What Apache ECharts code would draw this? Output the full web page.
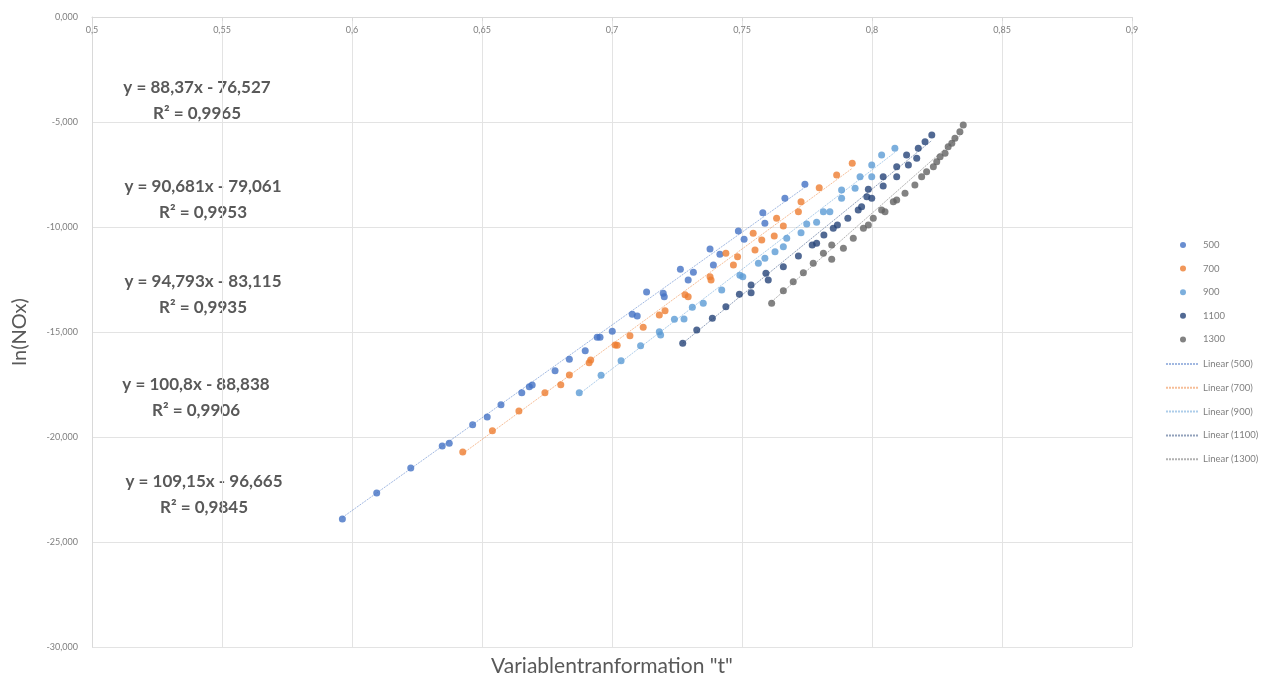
<!DOCTYPE html>
<html>
<head>
<meta charset="utf-8">
<script src="https://cdn.jsdelivr.net/npm/echarts@6/dist/echarts.min.js"></script>
<style>
  html, body { margin: 0; padding: 0; background: #ffffff; }
  #chart { width: 1276px; height: 679px; }
</style>
</head>
<body>
<div id="chart"></div>
<script>
// Temperature groups and their measured points [t, ln(NOx)]
const groups = ['500', '700', '900', '1100', '1300'];

const s500 = [
  [0.5963, -23.905], [0.6095, -22.667], [0.6226, -21.476], [0.6347, -20.429], [0.6374, -20.300],
  [0.6464, -19.414], [0.6520, -19.048], [0.6573, -18.462], [0.6653, -17.890], [0.6682, -17.605],
  [0.6693, -17.524], [0.6781, -16.843], [0.6836, -16.300], [0.6897, -15.890], [0.6943, -15.252],
  [0.6954, -15.252], [0.7001, -14.967], [0.7078, -14.157], [0.7097, -14.238], [0.7133, -13.095],
  [0.7197, -13.157], [0.7201, -13.319], [0.7263, -12.014], [0.7293, -12.524], [0.7313, -12.157],
  [0.7377, -11.048], [0.7390, -11.810], [0.7415, -11.300], [0.7486, -10.190], [0.7508, -10.586],
  [0.7580, -9.319], [0.7588, -9.824], [0.7665, -8.633], [0.7742, -7.967]
];
const s700 = [
  [0.6426, -20.714], [0.6540, -19.700], [0.6642, -18.762], [0.6742, -17.890], [0.6803, -17.510],
  [0.6836, -17.048], [0.6912, -16.462], [0.6918, -16.333], [0.7012, -15.619], [0.7020, -15.633],
  [0.7069, -15.176], [0.7120, -14.776], [0.7182, -14.190], [0.7204, -13.986], [0.7281, -13.224],
  [0.7293, -13.319], [0.7377, -12.367], [0.7381, -12.524], [0.7438, -11.252], [0.7467, -11.810],
  [0.7483, -11.414], [0.7543, -10.300], [0.7550, -11.095], [0.7576, -10.619], [0.7624, -10.429],
  [0.7633, -9.586], [0.7659, -9.952], [0.7717, -9.271], [0.7727, -8.795], [0.7797, -8.129],
  [0.7864, -7.524], [0.7924, -6.967]
];
const s900 = [
  [0.6874, -17.890], [0.6958, -17.062], [0.7035, -16.367], [0.7110, -15.652], [0.7182, -14.986],
  [0.7187, -15.143], [0.7240, -14.395], [0.7277, -14.381], [0.7309, -13.824], [0.7351, -13.633],
  [0.7422, -13.000], [0.7492, -12.300], [0.7503, -12.367], [0.7563, -11.729], [0.7588, -11.490],
  [0.7627, -11.176], [0.7659, -10.938], [0.7672, -10.538], [0.7727, -10.271], [0.7749, -9.857],
  [0.7787, -9.776], [0.7813, -9.271], [0.7838, -9.271], [0.7883, -8.238], [0.7883, -8.633],
  [0.7935, -8.157], [0.7954, -7.605], [0.7999, -7.048], [0.7999, -7.605], [0.8037, -6.571],
  [0.8088, -6.252]
];
const s1100 = [
  [0.7272, -15.538], [0.7326, -14.905], [0.7386, -14.348], [0.7438, -13.795], [0.7490, -13.205],
  [0.7535, -13.129], [0.7535, -12.762], [0.7592, -12.205], [0.7601, -12.524], [0.7659, -11.890],
  [0.7717, -11.381], [0.7770, -10.857], [0.7787, -10.776], [0.7815, -10.381], [0.7851, -10.062],
  [0.7867, -9.905], [0.7907, -9.586], [0.7947, -9.190], [0.7960, -9.033], [0.7980, -8.557],
  [0.7986, -8.205], [0.7999, -8.633], [0.8043, -7.605], [0.8043, -8.048], [0.8095, -7.129],
  [0.8095, -7.605], [0.8133, -6.571], [0.8140, -7.048], [0.8172, -6.729], [0.8178, -6.252],
  [0.8204, -5.938], [0.8230, -5.619]
];
const s1300 = [
  [0.7614, -13.633], [0.7659, -13.033], [0.7697, -12.605], [0.7736, -12.176], [0.7774, -11.729],
  [0.7813, -11.252], [0.7845, -11.538], [0.7845, -10.857], [0.7890, -11.014], [0.7928, -10.538],
  [0.7967, -10.062], [0.7986, -9.905], [0.8005, -9.586], [0.8037, -9.190], [0.8050, -9.271],
  [0.8082, -8.795], [0.8095, -8.714], [0.8127, -8.395], [0.8165, -8.000], [0.8191, -7.605],
  [0.8210, -7.367], [0.8236, -7.129], [0.8249, -6.890], [0.8262, -6.652], [0.8281, -6.490],
  [0.8293, -6.176], [0.8307, -6.014], [0.8319, -5.776], [0.8338, -5.462], [0.8351, -5.143]
];

// Linear fits per group: y = slope * x + intercept
const slopes = [88.37, 90.681, 94.793, 100.8, 109.15];
const intercepts = [-76.527, -79.061, -83.115, -88.838, -96.665];
const rSquared = [0.9965, 0.9953, 0.9935, 0.9906, 0.9845];

const groupData = [s500, s700, s900, s1100, s1300];
const colors = ['#4472C4', '#ED7D31', '#5B9BD5', '#264478', '#636363'];

const FONT = 'Lato, "Open Sans", sans-serif';
const comma = v => String(v).replace('.', ',');
const trendName = g => 'Linear (' + g + ')';

const scatterSeries = groups.map((g, i) => ({
  name: g,
  type: 'scatter',
  data: groupData[i],
  symbol: 'circle',
  symbolSize: 7,
  itemStyle: { color: colors[i] },
  z: 3
}));

const trendSeries = groups.map((g, i) => {
  const xs = groupData[i].map(p => p[0]);
  const x0 = Math.min(...xs), x1 = Math.max(...xs);
  return {
    name: trendName(g),
    type: 'line',
    data: [[x0, slopes[i] * x0 + intercepts[i]], [x1, slopes[i] * x1 + intercepts[i]]],
    symbol: 'none',
    lineStyle: { color: colors[i], width: 1, type: [2, 1], opacity: 0.5 },
    itemStyle: { color: colors[i] },
    silent: true,
    z: 2
  };
});

// Equation labels placed to the left of the data
const eqCenters = [[197, 88], [203, 187], [203, 282], [196, 385], [204, 482]];
const eqGraphics = [];
groups.forEach((g, i) => {
  const b = Math.abs(intercepts[i]);
  const line1 = 'y = ' + comma(slopes[i]) + 'x - ' + comma(b);
  const line2 = 'R² = ' + comma(rSquared[i]);
  [line1, line2].forEach((txt, k) => {
    eqGraphics.push({
      type: 'text',
      x: eqCenters[i][0],
      y: eqCenters[i][1] + k * 26,
      style: {
        text: txt,
        fill: '#595959',
        font: 'bold 17px ' + FONT,
        textAlign: 'center',
        textVerticalAlign: 'middle'
      }
    });
  });
});

const legendText = { color: '#7f7f7f', fontSize: 9.5, fontFamily: FONT };

const chart = echarts.init(document.getElementById('chart'), null, { renderer: 'canvas' });
chart.setOption({
  backgroundColor: '#ffffff',
  animation: false,
  grid: { left: 92, right: 144, top: 17, bottom: 32, containLabel: false },
  xAxis: {
    type: 'value',
    position: 'top',
    min: 0.5,
    max: 0.9,
    interval: 0.05,
    axisLine: { show: true, lineStyle: { color: '#d9d9d9', width: 1 } },
    axisTick: { show: true, inside: true, length: 4, lineStyle: { color: '#d9d9d9' } },
    axisLabel: {
      inside: true,
      margin: 9,
      color: '#7f7f7f',
      fontSize: 9,
      fontFamily: FONT,
      formatter: v => comma(+v.toFixed(2))
    },
    splitLine: { show: true, lineStyle: { color: '#e3e3e3', width: 1 } }
  },
  yAxis: {
    type: 'value',
    min: -30,
    max: 0,
    interval: 5,
    axisLine: { show: true, lineStyle: { color: '#d9d9d9', width: 1 } },
    axisTick: { show: false },
    axisLabel: {
      margin: 14,
      color: '#7f7f7f',
      fontSize: 9,
      fontFamily: FONT,
      formatter: v => v.toFixed(3).replace('.', ',')
    },
    splitLine: { show: true, lineStyle: { color: '#e3e3e3', width: 1 } }
  },
  legend: [
    {
      // marker entries
      orient: 'vertical',
      left: 1175,
      top: 235,
      itemWidth: 30,
      itemHeight: 6,
      itemGap: 13.6,
      textStyle: legendText,
      data: groups.map(g => ({ name: g, icon: 'circle' }))
    },
    {
      // trendline entries: line only
      orient: 'vertical',
      left: 1160,
      top: 354,
      itemWidth: 32,
      itemHeight: 10,
      itemGap: 13.8,
      textStyle: legendText,
      data: groups.map(g => ({ name: trendName(g), itemStyle: { opacity: 0 } }))
    }
  ],
  graphic: eqGraphics.concat([
    {
      type: 'text',
      x: 20,
      y: 332,
      rotation: Math.PI / 2,
      style: {
        text: 'ln(NOx)',
        fill: '#595959',
        font: '20px ' + FONT,
        textAlign: 'center',
        textVerticalAlign: 'middle'
      }
    },
    {
      type: 'text',
      x: 612,
      y: 666,
      style: {
        text: 'Variablentranformation "t"',
        fill: '#595959',
        font: '21px ' + FONT,
        textAlign: 'center',
        textVerticalAlign: 'middle'
      }
    }
  ]),
  series: scatterSeries.concat(trendSeries)
});
</script>
</body>
</html>
